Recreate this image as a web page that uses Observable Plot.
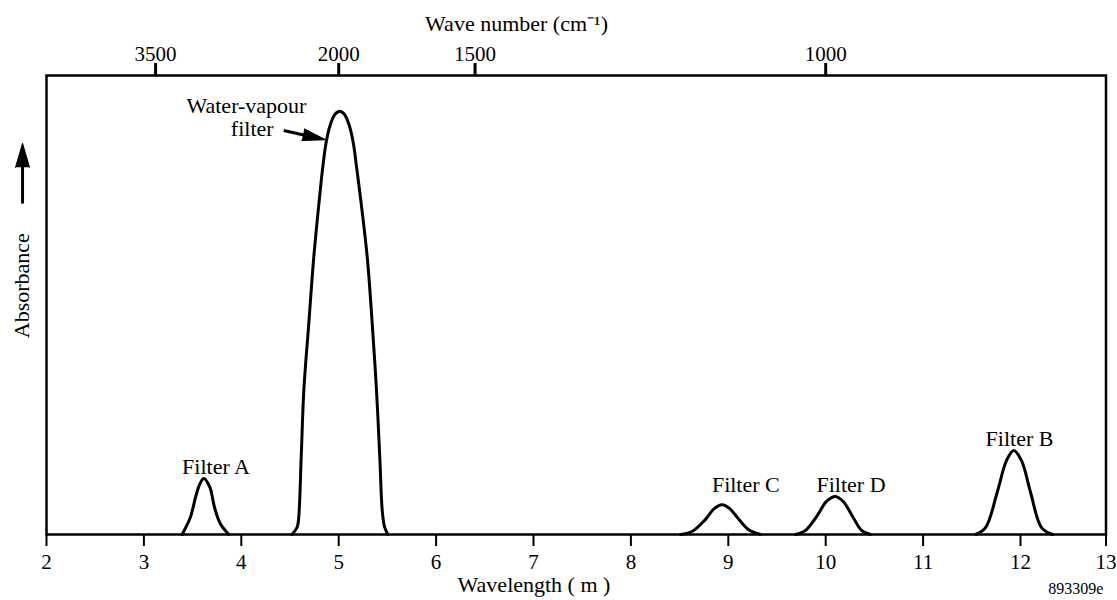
<!DOCTYPE html>
<html><head><meta charset="utf-8">
<script src="https://cdn.jsdelivr.net/npm/d3@7"></script>
<script src="https://cdn.jsdelivr.net/npm/@observablehq/plot@0.6"></script>
<style>
html,body{margin:0;padding:0;background:#fff;}
</style></head><body><div id="chart"></div>
<script>
// Bottom axis: wavelength (µm) ticks
const wavelengthTicks = [2,3,4,5,6,7,8,9,10,11,12,13];
// Top axis: wave-number labels and the wavelength at which each tick sits
const wavenumberLabels = [3500, 2000, 1500, 1000];
const wavenumberAt = [3.12, 5.0, 6.4, 10.0];

// Absorbance curves (arbitrary units, frame top = 100)
const waterVapourWl  = [4.52, 4.575, 4.59, 4.615, 4.642, 4.693, 4.744, 4.806, 4.838, 4.870, 4.910, 4.960, 5.011, 5.060, 5.110, 5.150, 5.182, 5.220, 5.293, 5.344, 5.388, 5.422, 5.447, 5.47, 5.504];
const waterVapourAbs = [0, 1.7, 3.8, 16.8, 31.4, 46.0, 60.4, 74.0, 80.3, 85.3, 89.0, 91.5, 92.2, 91.5, 89.0, 85.3, 80.3, 74.0, 60.4, 46.0, 31.4, 16.8, 5.2, 1.7, 0];

const filterAWl  = [3.393, 3.478, 3.530, 3.574, 3.615, 3.677, 3.725, 3.786, 3.872];
const filterAAbs = [0, 3.8, 8.1, 11.0, 12.2, 10.3, 5.9, 2.3, 0];

const filterCWl  = [8.509, 8.632, 8.766, 8.858, 8.937, 9.012, 9.108, 9.218, 9.331];
const filterCAbs = [0, 0.7, 3.3, 5.7, 6.5, 5.7, 3.3, 0.9, 0];

const filterDWl  = [9.690, 9.793, 9.913, 10.008, 10.10, 10.18, 10.272, 10.368, 10.460];
const filterDAbs = [0, 0.9, 4.1, 7.2, 8.3, 7.2, 4.1, 0.9, 0];

const filterBWl  = [11.538, 11.641, 11.761, 11.856, 11.931, 12.012, 12.117, 12.246, 12.374];
const filterBAbs = [0, 1.5, 9.2, 16.1, 18.3, 16.1, 9.2, 1.5, 0];

// Labels of the filter peaks
const filterNames    = ["Filter A", "Filter C", "Filter D", "Filter B"];
const filterLabelWl  = [3.74, 9.18, 10.26, 11.99];
const filterLabelAbs = [13.2, 9.2, 9.2, 19.2];

// Water-vapour annotation
const wvLines  = ["Water-vapour", "filter"];
const wvLineWl = [4.053, 4.112];
const wvLineAbs = [91.9, 86.9];

const curves = [
  {name: "Water-vapour filter", wl: waterVapourWl, abs: waterVapourAbs},
  {name: "Filter A", wl: filterAWl, abs: filterAAbs},
  {name: "Filter C", wl: filterCWl, abs: filterCAbs},
  {name: "Filter D", wl: filterDWl, abs: filterDAbs},
  {name: "Filter B", wl: filterBWl, abs: filterBAbs}
];
const rows = curves.flatMap(c => c.wl.map((w, i) => ({name: c.name, wl: w, abs: c.abs[i]})));
const filterLabels = filterNames.map((n, i) => ({n, wl: filterLabelWl[i], abs: filterLabelAbs[i]}));
const wvLabels = wvLines.map((t, i) => ({t, wl: wvLineWl[i], abs: wvLineAbs[i]}));

// Arrow shafts and heads (annotation)
const wvShaft = [{x1: 4.436, y1: 88.0, x2: 4.64, y2: 87.05}];
const wvHead = [{x: 4.634, y: 87.1}];
const absShaft = [{x1: 1.754, y1: 72.1, x2: 1.754, y2: 80.5}];
const absHead = [{x: 1.754, y: 80.0}];

const font = "'Liberation Serif', 'Times New Roman', serif";

const chart = Plot.plot({
  width: 1117,
  height: 600,
  marginLeft: 46,
  marginRight: 11.5,
  marginTop: 75,
  marginBottom: 66,
  style: {fontFamily: font, fontSize: "21px", color: "black", background: "white"},
  x: {type: "linear", domain: [2, 12, 13], range: [46, 1020, 1105.5]},
  y: {type: "linear", domain: [0, 100], axis: null},
  marks: [
    Plot.line(rows, {x: "wl", y: "abs", z: "name", curve: "catmull-rom", stroke: "black", strokeWidth: 3, strokeLinejoin: "round"}),
    Plot.frame({stroke: "black", strokeWidth: 2.5}),
    Plot.axisX(wavelengthTicks, {anchor: "bottom", tickSize: 12, tickPadding: 8, strokeWidth: 2, label: null, fontSize: 21, tickFormat: d => String(d)}),
    Plot.axisX(wavenumberAt, {anchor: "top", tickSize: 13, tickPadding: 1.5, strokeWidth: 3, label: null, fontSize: 21, tickFormat: d => String(wavenumberLabels[wavenumberAt.indexOf(d)])}),
    Plot.text(filterLabels, {x: "wl", y: "abs", text: "n", lineAnchor: "bottom", textAnchor: "middle", fontSize: 22}),
    Plot.text(wvLabels, {x: "wl", y: "abs", text: "t", lineAnchor: "bottom", textAnchor: "middle", fontSize: 22}),
    Plot.link(wvShaft, {x1: "x1", y1: "y1", x2: "x2", y2: "y2", stroke: "black", strokeWidth: 3}),
    Plot.link(absShaft, {x1: "x1", y1: "y1", x2: "x2", y2: "y2", stroke: "black", strokeWidth: 3}),
    Plot.vector(wvHead, {x: "x", y: "y", rotate: 102.6, length: 23, r: 6, shape: "spike", anchor: "start", fill: "black", stroke: "black", strokeWidth: 1}),
    Plot.vector(absHead, {x: "x", y: "y", rotate: 0, length: 24, r: 7, shape: "spike", anchor: "start", fill: "black", stroke: "black", strokeWidth: 1}),
    Plot.text(["Absorbance"], {x: 1.743, y: 54.2, text: d => d, rotate: -90, textAnchor: "middle", lineAnchor: "middle", fontSize: 22}),
    Plot.text(["Wavelength ( m )"], {x: 7.005, y: -12.6, text: d => d, textAnchor: "middle", lineAnchor: "bottom", fontSize: 22}),
    Plot.text(["Wave number (cm\u207B\u00B9)"], {x: 6.826, y: 109.8, text: d => d, textAnchor: "middle", lineAnchor: "bottom", fontSize: 22}),
    Plot.text(["893309e"], {x: 12.97, y: -13.0, text: d => d, textAnchor: "end", lineAnchor: "bottom", fontSize: 16})
  ]
});
document.getElementById("chart").appendChild(chart);
</script>
</body></html>
